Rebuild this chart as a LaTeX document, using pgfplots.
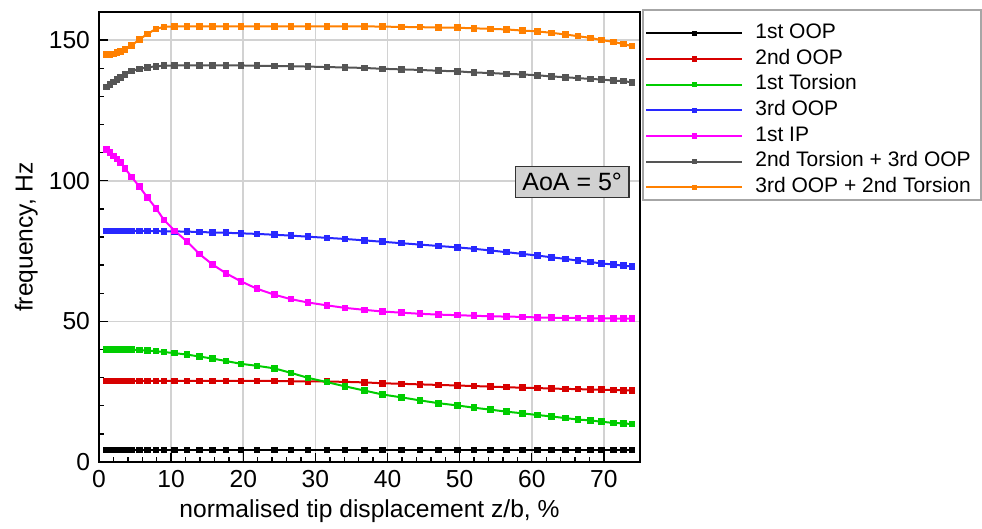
\documentclass[border=0pt]{standalone}
\usepackage{fontspec}
\setmainfont{Liberation Sans}
\usepackage{pgfplots}
\usepackage{pgfplotstable}
\pgfplotsset{compat=1.18}
\definecolor{cOOPa}{RGB}{0,0,0}
\definecolor{cOOPb}{RGB}{215,0,0}
\definecolor{cTor}{RGB}{0,205,0}
\definecolor{cOOPc}{RGB}{40,40,255}
\definecolor{cIP}{RGB}{255,0,255}
\definecolor{cGray}{RGB}{85,85,85}
\definecolor{cOrange}{RGB}{255,128,0}
\definecolor{gridc}{RGB}{210,210,210}
\pgfplotstableread{
x    oopa oopb tora oopc ipa   torb  oopd
1.0  4.2  28.8 40.1 82.2 111.1 133.3 144.8
1.5  4.2  28.8 40.1 82.2 110.0 134.2 144.9
2.0  4.2  28.8 40.1 82.2 108.8 135.1 145.1
2.5  4.2  28.8 40.0 82.2 107.8 136.0 145.5
3.0  4.2  28.8 40.0 82.2 106.5 136.7 146.0
3.6  4.2  28.8 40.0 82.2 104.4 137.7 146.7
4.5  4.2  28.8 39.9 82.2 101.4 139.0 148.1
5.6  4.2  28.8 39.8 82.2 97.9  139.8 150.2
6.7  4.2  28.8 39.6 82.1 94.1  140.3 152.2
7.9  4.2  28.8 39.4 82.1 90.2  140.7 154.0
9.0  4.2  28.8 39.1 82.0 86.1  140.9 154.7
10.5 4.2  28.8 38.7 82.0 82.2  141.0 154.9
12.2 4.2  28.8 38.2 81.9 78.4  141.0 154.9
13.9 4.2  28.8 37.5 81.8 74.0  141.0 154.9
15.7 4.2  28.8 36.8 81.6 70.3  141.0 154.9
17.6 4.2  28.8 35.9 81.5 67.1  141.0 154.9
19.7 4.2  28.8 34.9 81.3 64.2  141.0 154.9
21.9 4.2  28.8 34.2 81.1 61.6  140.9 154.9
24.3 4.2  28.8 33.3 80.8 59.5  140.8 154.9
26.6 4.2  28.7 31.7 80.5 57.9  140.7 154.9
29.0 4.2  28.7 29.9 80.1 56.7  140.6 154.9
31.6 4.2  28.6 28.4 79.7 55.7  140.4 154.9
34.1 4.2  28.5 26.9 79.3 54.8  140.3 154.9
36.8 4.2  28.3 25.4 78.8 54.1  140.1 154.9
39.3 4.2  28.0 24.0 78.3 53.5  139.8 154.8
41.9 4.2  27.8 23.0 77.8 53.1  139.6 154.7
44.5 4.2  27.6 21.9 77.3 52.7  139.4 154.6
47.1 4.2  27.4 20.9 76.8 52.4  139.1 154.5
49.7 4.2  27.2 20.1 76.3 52.2  138.9 154.4
52.0 4.2  27.0 19.3 75.8 52.0  138.5 154.2
54.3 4.2  26.8 18.6 75.2 51.8  138.3 154.0
56.5 4.2  26.6 17.9 74.6 51.7  138.0 153.8
58.7 4.2  26.4 17.3 74.0 51.6  137.8 153.4
60.8 4.2  26.3 16.7 73.4 51.4  137.5 153.1
62.7 4.2  26.1 16.2 72.8 51.3  137.1 152.6
64.7 4.2  26.0 15.6 72.2 51.2  136.8 152.0
66.4 4.2  25.9 15.1 71.6 51.2  136.5 151.4
68.1 4.2  25.8 14.8 71.1 51.1  136.2 150.8
69.7 4.2  25.7 14.3 70.6 51.1  136.0 150.0
71.3 4.2  25.6 13.9 70.2 51.0  135.6 149.4
72.7 4.2  25.5 13.7 69.8 51.0  135.4 148.6
73.9 4.2  25.4 13.5 69.5 51.0  135.0 147.9
}\datatab
\begin{document}
\begin{tikzpicture}
\path (-49.5pt,-27.5pt) rectangle (441.5pt,231pt);
\begin{axis}[
  scale only axis,
  width=270.5pt, height=225pt,
  at={(0pt,0pt)}, anchor=south west,
  xmin=0, xmax=75, ymin=0, ymax=160,
  clip=false,
  xtick={0,10,...,70}, ytick={0,50,100,150},
  minor x tick num=4, minor y tick num=4,
  xtick pos=bottom, ytick pos=left,
  tick align=inside,
  major tick length=4.5pt, minor tick length=2.5pt,
  every tick/.style={black, line width=0.7pt},
  axis line style={line width=1.1pt},
  grid=major,
  major grid style={gridc, line width=0.8pt},
  /pgf/number format/assume math mode=true,
  tick label style={font=\fontsize{12.3}{14}\selectfont},
  label style={font=\fontsize{12.3}{14}\selectfont},
  xlabel={normalised tip displacement z/b, \%},
  ylabel={frequency, Hz},
  xlabel style={yshift=1pt},
  ylabel style={yshift=-1.3pt},
  xticklabel style={yshift=-0.5pt},
  yticklabel style={xshift=-1pt},
  every axis plot/.append style={line width=1pt, mark=square*, mark size=1.15pt},
  legend cell align=left,
  legend style={at={(1.0055,0.9822)}, anchor=north west,
    draw=none, fill=none,
    font=\fontsize{10.5}{12}\selectfont,
    inner xsep=1pt, inner ysep=0pt, row sep=0pt, column sep=4pt,
    nodes={inner ysep=1.675pt, inner xsep=2pt, text height=7.3pt, text depth=2.2pt}},
  legend image code/.code={\draw[mark repeat=2,mark phase=2,#1,mark size=0.8pt] plot coordinates {(0pt,0pt) (24pt,0pt) (48pt,0pt)};},
]
\draw[gray!70, line width=0.6pt] (rel axis cs:1.0055,1.0044) rectangle (rel axis cs:1.6303,0.5822);
\addplot[cOOPa, mark options={fill=cOOPa}] table[x=x,y=oopa] {\datatab};
\addlegendentry{1st OOP}
\addplot[cOOPb, mark options={fill=cOOPb}] table[x=x,y=oopb] {\datatab};
\addlegendentry{2nd OOP}
\addplot[cTor, mark options={fill=cTor}] table[x=x,y=tora] {\datatab};
\addlegendentry{1st Torsion}
\addplot[cOOPc, mark options={fill=cOOPc}] table[x=x,y=oopc] {\datatab};
\addlegendentry{3rd OOP}
\addplot[cIP, mark options={fill=cIP}] table[x=x,y=ipa] {\datatab};
\addlegendentry{1st IP}
\addplot[cGray, mark options={fill=cGray}] table[x=x,y=torb] {\datatab};
\addlegendentry{2nd Torsion + 3rd OOP}
\addplot[cOrange, mark options={fill=cOrange}] table[x=x,y=oopd] {\datatab};
\addlegendentry{3rd OOP + 2nd Torsion}
\node[draw=black!80, fill=black!18, line width=0.6pt, inner xsep=3.5pt, minimum height=14.5pt,
  font=\fontsize{12.5}{14}\selectfont] at (axis cs:65.6,99.6) {AoA = 5°};
\end{axis}
\end{tikzpicture}
\end{document}
